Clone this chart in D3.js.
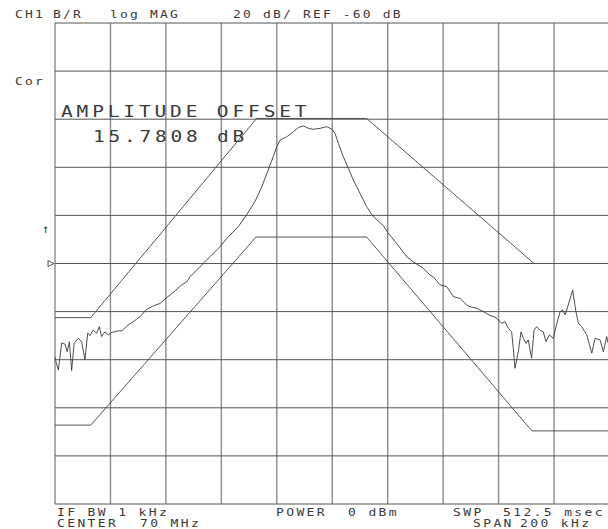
<!DOCTYPE html>
<html>
<head>
<meta charset="utf-8">
<script src="https://cdn.jsdelivr.net/npm/d3@7/dist/d3.min.js"></script>
<style>
  html, body { margin: 0; padding: 0; background: #fff; }
  svg { display: block; }
  text { font-family: "DejaVu Sans Mono", monospace; fill: #3a3a3a; }
</style>
</head>
<body>
<svg id="chart" width="608" height="529"></svg>
<script>
// Frequency offset from center (kHz), center 70 MHz, span 200 kHz
const xTicks = [-100, -80, -60, -40, -20, 0, 20, 40, 60, 80, 100];
// Magnitude grid (dB), 20 dB/div, REF -60 dB
const yTicks = [40, 20, 0, -20, -40, -60, -80, -100, -120, -140, -160];

// Measured trace
const traceFreq = [-100, -99.6, -98.8, -97.6, -96.4, -95.6, -94.8, -94.0, -93.1, -91.6, -90.4, -89.2, -88.2, -87.4, -86.2, -85.0, -84.0, -83.2, -82.0, -80.8, -79.5, -78.4, -77.2, -75.9, -74.1, -71.8, -69.3, -66.9, -64.5, -62.1, -59.7, -57.3, -54.3, -52.5, -51.3, -47.7, -44.1, -40.5, -37.5, -33.9, -30.9, -27.9, -25.4, -23.1, -21.3, -20.0, -18.8, -16.4, -14.0, -12.2, -10.4, -8.6, -6.8, -4.4, -2.0, -0.2, 1.0, 2.2, 4.0, 5.8, 7.6, 10.0, 12.4, 14.8, 18.4, 20.2, 23.2, 26.9, 29.2, 32.8, 35.3, 36.4, 38.9, 41.3, 43.7, 46.1, 48.5, 49.7, 52.1, 54.5, 56.9, 58.7, 59.9, 61.1, 62.3, 63.5, 64.7, 65.3, 65.9, 67.1, 68.1, 68.9, 69.9, 70.7, 71.9, 72.8, 73.7, 74.9, 76.1, 77.1, 78.3, 79.7, 81.0, 82.2, 83.1, 84.0, 85.1, 86.7, 87.9, 88.8, 90.0, 91.8, 93.6, 94.8, 96.6, 97.8, 99.0, 99.5];
const traceDb = [-99, -101, -104.3, -93.1, -93.5, -96.7, -92.5, -104.5, -93.2, -91.1, -92.5, -100, -88.9, -90.0, -87.7, -89.0, -86.3, -90.4, -88.4, -89.7, -88.6, -88.4, -88.0, -88.0, -86.0, -84.2, -82.1, -79.0, -77.6, -76.6, -74.2, -72.0, -68.9, -67.6, -65.5, -61.3, -57.2, -53.0, -48.9, -44.7, -39.8, -34.3, -28.1, -21.1, -15.6, -11.4, -8.7, -7.3, -5.2, -3.4, -2.8, -3.8, -4.2, -3.8, -3.1, -4.1, -5.9, -10.0, -15.6, -20.4, -25.3, -30.8, -36.4, -40.5, -44.2, -47.4, -51.6, -57.2, -59.3, -62.0, -64.8, -65.5, -68.9, -69.6, -73.8, -74.5, -77.3, -78.0, -78.6, -80.0, -81.6, -82.3, -83.5, -84.9, -84.2, -86.9, -88.4, -95.3, -103.6, -96.7, -88.4, -91.1, -93.2, -91.8, -99.4, -87.7, -86.3, -87.7, -88.4, -92.5, -89.7, -91.1, -84.9, -80.0, -79.3, -81.4, -77.3, -71.0, -80.0, -84.9, -86.3, -89.7, -97.3, -91.1, -91.8, -96.7, -90.4, -93.1];

// Limit lines
const upperFreq = [-100, -87.1, -27.3, 12.4, 72.8];
const upperDb = [-82.5, -82.5, 0.3, 0.3, -60];
const lowerFreq = [-100, -87.1, -27.5, 12.4, 72.0, 100];
const lowerDb = [-127.2, -127.2, -49, -49, -129.6, -129.6];

const svg = d3.select("#chart");
const x = d3.scaleLinear().domain([-100, 100]).range([55, 609.5]);
const y = d3.scaleLinear().domain([40, -160]).range([23, 504]);

// Grid
svg.append("g").selectAll("line").data(xTicks).join("line")
  .attr("x1", d => x(d)).attr("x2", d => x(d))
  .attr("y1", y(40)).attr("y2", y(-160))
  .attr("stroke", "#8a8a8a").attr("stroke-width", 1.4);
svg.append("g").selectAll("line").data(yTicks).join("line")
  .attr("x1", x(-100)).attr("x2", x(100))
  .attr("y1", d => y(d)).attr("y2", d => y(d))
  .attr("stroke", "#555").attr("stroke-width", 1);

const line = d3.line().x(d => x(d[0])).y(d => y(d[1]));

// Limit lines
svg.append("path").datum(d3.zip(upperFreq, upperDb))
  .attr("d", line).attr("fill", "none").attr("stroke", "#444").attr("stroke-width", 0.9);
svg.append("path").datum(d3.zip(lowerFreq, lowerDb))
  .attr("d", line).attr("fill", "none").attr("stroke", "#444").attr("stroke-width", 0.9);

// Trace
svg.append("path").datum(d3.zip(traceFreq, traceDb))
  .attr("d", line).attr("fill", "none").attr("stroke", "#3a3a3a").attr("stroke-width", 0.9);

// Texts: fixed-pitch, horizontally stretched glyphs like a plotter font
function txt(s, px, py, size, pitch) {
  const sx = 1.3;
  const ls = pitch / sx - 0.602 * size;
  svg.append("text")
    .attr("transform", `translate(${px},${py}) scale(${sx},1)`)
    .attr("font-size", size).attr("letter-spacing", ls).text(s);
}
txt("CH1", 15, 18, 10, 10);
txt("B/R", 53, 18, 10, 10);
txt("log MAG", 110, 18, 10, 10);
txt("20 dB/ REF -60 dB", 233, 18, 10, 10);
txt("Cor", 15, 85, 10, 10);
txt("AMPLITUDE OFFSET", 61, 117, 15, 15.6);
txt("15.7808 dB", 93, 142, 15, 15.5);
txt("IF BW 1 kHz", 57, 516, 10, 10.2);
txt("POWER", 276, 516, 10, 10.2);
txt("0 dBm", 348, 516, 10, 10.2);
txt("SWP", 453, 516, 10, 10.2);
txt("512.5 msec", 503, 516, 10, 10.2);
txt("CENTER", 57, 527, 10, 10.2);
txt("70 MHz", 140, 527, 10, 10.2);
txt("SPAN", 473, 527, 10, 10.2);
txt("200 kHz", 520, 527, 10, 10.2);

// Marker glyphs
svg.append("text").attr("x", 42).attr("y", 233)
  .attr("font-family", "DejaVu Sans").attr("font-size", 12).text("↑");
svg.append("path")
  .attr("d", d3.line()([[48, y(-60) - 3], [54, y(-60)], [48, y(-60) + 3]]) + "Z")
  .attr("fill", "none").attr("stroke", "#444").attr("stroke-width", 0.9);
</script>
</body>
</html>
